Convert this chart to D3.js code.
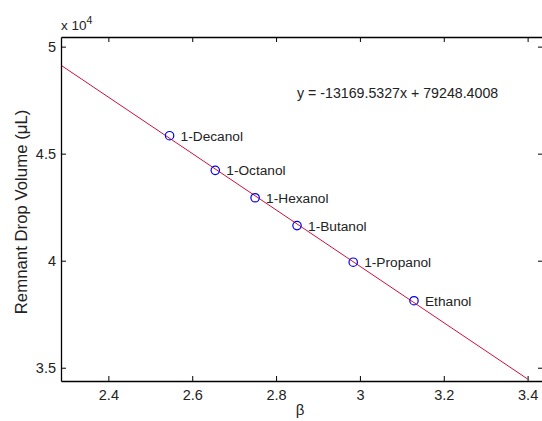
<!DOCTYPE html>
<html>
<head>
<meta charset="utf-8">
<script src="https://cdn.jsdelivr.net/npm/d3@7"></script>
<style>
  body { margin: 0; background: #fff; }
  text { font-family: "Liberation Sans", Arial, sans-serif; fill: #222; }
</style>
</head>
<body>
<div id="chart"></div>
<script>
let w = 542;
let h = 421;

// data
let solvents = ["1-Decanol", "1-Octanol", "1-Hexanol", "1-Butanol", "1-Propanol", "Ethanol"];
let beta = [2.546, 2.655, 2.750, 2.850, 2.984, 3.129];
let volume = [45840, 44220, 42940, 41640, 39930, 38130];
let fitSlope = -13169.5327;
let fitIntercept = 79248.4008;
let fitRange = [2.287, 3.4];
let xTicks = [2.4, 2.6, 2.8, 3, 3.2, 3.4];
let yTicks = [35000, 40000, 45000, 50000];

let padL = 61, padT = 37, padR = 543, padB = 381;

let svg = d3.select("#chart").append("svg")
    .attr("width", w)
    .attr("height", h);

let xScale = d3.scaleLinear().domain([2.287, 3.4367]).range([padL, padR]);
let yScale = d3.scaleLinear().domain([34380, 50450]).range([padB, padT]);

// fitted line
let fitData = fitRange.map(x => ({x: x, y: fitSlope * x + fitIntercept}));
svg.append("path")
    .datum(fitData)
    .attr("d", d3.line().x(d => xScale(d.x)).y(d => yScale(d.y)))
    .attr("stroke", "#d0103a")
    .attr("stroke-width", 1)
    .attr("fill", "none");

// points
let pts = solvents.map((s, i) => ({name: s, x: beta[i], y: volume[i]}));
svg.selectAll(".pt").data(pts).join("circle")
    .attr("class", "pt")
    .attr("cx", d => xScale(d.x))
    .attr("cy", d => yScale(d.y))
    .attr("r", 4.2)
    .attr("fill", "none")
    .attr("stroke", "#0000ee")
    .attr("stroke-width", 1.2);

svg.selectAll(".lbl").data(pts).join("text")
    .attr("class", "lbl")
    .attr("x", d => xScale(d.x) + 11)
    .attr("y", d => yScale(d.y) + 5)
    .attr("font-size", 13.7)
    .text(d => d.name);

// axes (inward ticks, matlab style)
let tick = 5;
let xAxisB = d3.axisBottom(xScale).tickValues(xTicks).tickSizeInner(-tick).tickSizeOuter(0)
    .tickPadding(9).tickFormat(d3.format("~g"));
let gx = svg.append("g").attr("transform", `translate(0,${padB})`).call(xAxisB);
let xAxisT = d3.axisTop(xScale).tickValues(xTicks).tickSizeInner(-tick).tickSizeOuter(0).tickFormat("");
let gxt = svg.append("g").attr("transform", `translate(0,${padT})`).call(xAxisT);

let yAxisL = d3.axisLeft(yScale).tickValues(yTicks).tickSizeInner(-tick).tickSizeOuter(0)
    .tickPadding(5).tickFormat(d => d3.format("~g")(d / 10000));
let gy = svg.append("g").attr("transform", `translate(${padL},0)`).call(yAxisL);
let yAxisR = d3.axisRight(yScale).tickValues(yTicks).tickSizeInner(-tick).tickSizeOuter(0).tickFormat("");
let gyr = svg.append("g").attr("transform", `translate(${padR},0)`).call(yAxisR);

[gx, gxt, gy, gyr].forEach(g => {
    g.select(".domain").attr("stroke", "#000").attr("stroke-width", 1.3);
    g.selectAll(".tick line").attr("stroke", "#000");
    g.selectAll(".tick text").attr("font-size", 14.5).attr("fill", "#222")
        .attr("font-family", "'Liberation Sans', Arial, sans-serif");
});

// exponent
let ex = svg.append("text").attr("x", padL).attr("y", 30).attr("font-size", 13.5);
ex.append("tspan").text("x 10");
ex.append("tspan").attr("dy", -6).attr("font-size", 10.5).text("4");

// equation
svg.append("text")
    .attr("x", 297)
    .attr("y", 98)
    .attr("font-size", 14.2)
    .text("y = -13169.5327x + 79248.4008");

// axis labels
svg.append("text")
    .attr("x", 300)
    .attr("y", 415)
    .attr("text-anchor", "middle")
    .attr("font-size", 15)
    .text("β");

svg.append("text")
    .attr("transform", `translate(27,${(padT + padB) / 2 + 3}) rotate(-90)`)
    .attr("text-anchor", "middle")
    .attr("font-size", 16.8)
    .text("Remnant Drop Volume (μL)");
</script>
</body>
</html>
